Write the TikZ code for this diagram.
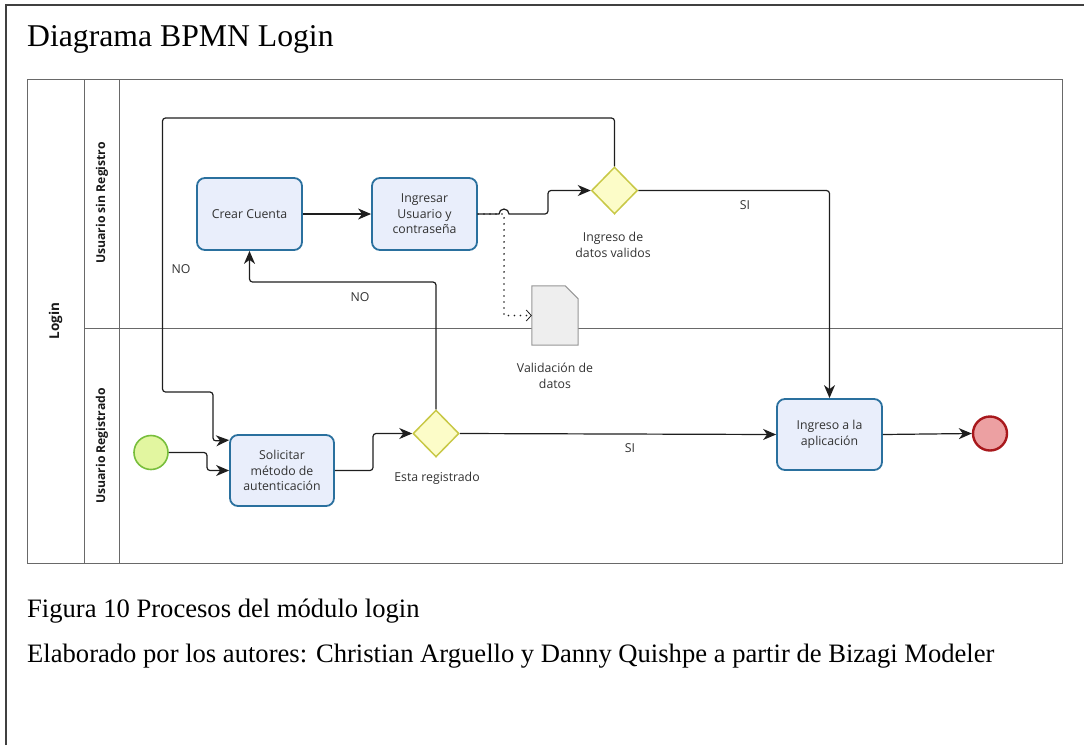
\documentclass[tikz,border=0pt]{standalone}
\usepackage{fontspec}
\setmainfont{Liberation Serif}
\newfontfamily\bpmnfont{Open Sans}
\usetikzlibrary{shapes.geometric,arrows.meta,calc}
\definecolor{taskfill}{RGB}{233,238,251}
\definecolor{taskline}{RGB}{42,112,158}
\definecolor{gwfill}{RGB}{252,252,200}
\definecolor{gwline}{RGB}{200,200,70}
\definecolor{startfill}{RGB}{226,246,160}
\definecolor{startline}{RGB}{120,190,60}
\definecolor{endfill}{RGB}{236,160,162}
\definecolor{endline}{RGB}{168,24,28}
\definecolor{docfill}{RGB}{238,238,238}
\definecolor{docline}{RGB}{150,150,150}
\definecolor{flowc}{RGB}{30,30,30}
\definecolor{poolc}{RGB}{105,105,105}
\definecolor{txt}{RGB}{50,50,50}
\begin{document}
\begin{tikzpicture}[x=1pt,y=-1pt,
  task/.style={draw=taskline, fill=taskfill, line width=1.8pt, rounded corners=8pt,
    minimum width=105pt, minimum height=72pt, inner sep=2pt, align=center,
    font=\bpmnfont\fontsize{12.3}{15.5}\selectfont, text=txt},
  gateway/.style={diamond, aspect=1, draw=gwline, fill=gwfill, line width=1.5pt,
    minimum width=46pt, minimum height=47pt, inner sep=0pt},
  startev/.style={circle, draw=startline, fill=startfill, line width=1.6pt,
    minimum size=34pt, inner sep=0pt},
  endev/.style={circle, draw=endline, fill=endfill, line width=2.4pt,
    minimum size=34pt, inner sep=0pt},
  tip/.style={-{Stealth[length=13pt,width=11pt,inset=4pt]}},
  flow/.style={draw=flowc, line width=1.2pt, rounded corners=3pt, tip},
  assoc/.style={draw=flowc, line width=1.8pt, line cap=round,
    dash pattern=on 0pt off 6pt, -{Straight Barb[length=5pt,width=11pt,line width=0.8pt]}},
  lbl/.style={font=\bpmnfont\fontsize{12.3}{16}\selectfont, text=txt, align=center},
  lanelbl/.style={font=\bpmnfont\bfseries\fontsize{12.2}{14}\selectfont, text=black!90, rotate=90},
  poolline/.style={draw=poolc, line width=0.9pt},
  frameline/.style={draw=black!75, line width=1.2pt},
  heading/.style={anchor=base west, inner sep=0pt},
]
\useasboundingbox (0,0) rectangle (1084,745);

% page frame and headings
\draw[frameline] (6,745) -- (6,5) -- (1084,5);
\node[heading, font=\fontsize{31.7}{36}\selectfont] (title) at (27,46) {Diagrama BPMN Login};
\node[heading, font=\fontsize{26.6}{30}\selectfont] (cap1) at (27,617) {Figura 10 Procesos del módulo login};
\node[heading, font=\fontsize{26.6}{30}\selectfont] (cap2) at (27,662) {Elaborado por los autores: Christian Arguello y Danny Quishpe a partir de Bizagi Modeler};

% pool and lanes
\draw[poolline] (27,79) rectangle (1062,563);
\draw[poolline] (84,79) -- (84,563);
\draw[poolline] (119,79) -- (119,563);
\draw[poolline] (84,328) -- (1062,328);
\node[lanelbl, font=\bpmnfont\bfseries\fontsize{13.5}{15}\selectfont] (pool) at (55.5,321) {Login};
\node[lanelbl] (lane1) at (102,203) {Usuario sin Registro};
\node[lanelbl] (lane2) at (102,446) {Usuario Registrado};

% activities
\node[task] (crear) at (249.5,214) {Crear Cuenta};
\node[task] (ingresar) at (424.5,214) {Ingresar\\Usuario y\\contraseña};
\node[task, minimum width=104pt, minimum height=71pt] (solicitar) at (282,470.5) {Solicitar\\método de\\autenticación};
\node[task, minimum height=71pt] (app) at (829.5,434.5) {Ingreso a la\\aplicación};

% gateways and events
\node[gateway] (gw1) at (614.5,190.5) {};
\node[gateway] (gw2) at (436,433.5) {};
\node[startev] (start) at (151,452.5) {};
\node[endev] (end) at (990,433.5) {};

% data object
\node[minimum width=46pt, minimum height=59pt, inner sep=0pt] (data) at (555,315.5) {};
\draw[draw=docline, fill=docfill, line width=1pt]
  (data.north west) -- ($(data.north east)+(-13,0)$) -- ($(data.north east)+(0,13)$)
  -- (data.south east) -- (data.south west) -- cycle;

% labels
\node[lbl] (gw1lbl) at (613,245) {Ingreso de\\datos validos};
\node[lbl] (gw2lbl) at (437,478) {Esta registrado};
\node[lbl] (datalbl) at (555,376) {Validación de\\datos};
\node[lbl] (si1) at (745,205) {SI};
\node[lbl] (si2) at (630,448) {SI};
\node[lbl] (no1) at (181,269) {NO};
\node[lbl] (no2) at (360,297) {NO};

% association to the data object
\draw[assoc] (ingresar.east) -- (504,214) -- (504,315.5) -- (data.west);

% sequence flows
\draw[flow] (start.east) -- (207,452.5) -- (207,470.5) -- (solicitar.west);
\draw[flow] (crear) -- (ingresar);
\draw[draw=flowc, line width=1.2pt, tip]
  (ingresar.east) -- (499,214) arc[start angle=180, end angle=360, radius=5]
  [rounded corners=3pt] -- (548,214) -- (548,190.5) -- (gw1.west);
\draw[flow] (gw1.north) -- (614.5,118) -- (162.5,118) -- (162.5,392) -- (213,392)
  -- (213,441) -- ($(solicitar.north west)+(0,6)$);
\draw[flow] (gw1.east) -| (app.north);
\draw[flow] (solicitar.east) -- (373,470.5) -- (373,433.5) -- (gw2.west);
\draw[flow] (gw2.north) -- (436,282) -| (crear.south);
\draw[flow] (gw2.east) -- (app.west);
\draw[flow] (app.east) -- (end.west);
\end{tikzpicture}
\end{document}
